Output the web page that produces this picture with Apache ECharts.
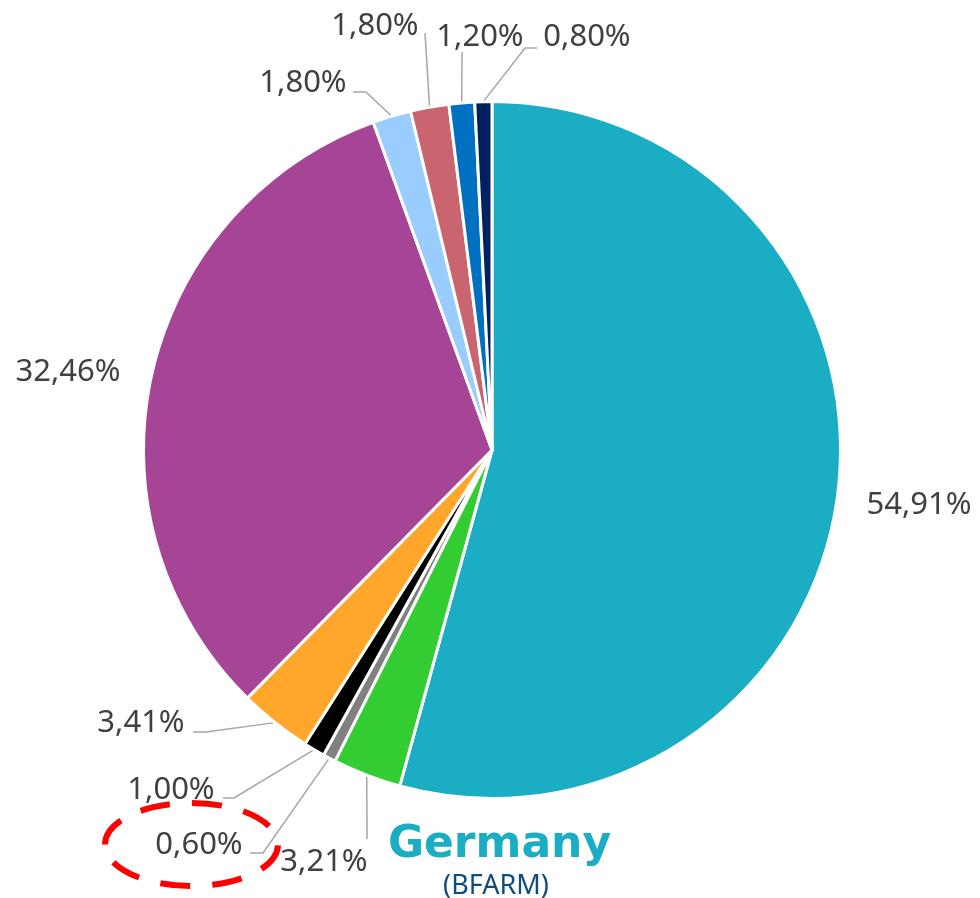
<!DOCTYPE html>
<html>
<head>
<meta charset="utf-8">
<script src="https://cdn.jsdelivr.net/npm/echarts@6/dist/echarts.min.js"></script>
<style>
html,body{margin:0;padding:0;background:#ffffff;}
#chart{width:980px;height:898px;}
</style>
</head>
<body>
<div id="chart"></div>
<script>
// ---- DATA ----
const categories = ['Segment 1','Segment 2','Segment 3','Segment 4','Segment 5','Segment 6','Segment 7','Segment 8','Segment 9','Segment 10'];
const values = [54.91, 3.21, 0.60, 1.00, 3.41, 32.46, 1.80, 1.80, 1.20, 0.80];
const titleText = 'Germany';
const subtitleText = '(BFARM)';

// ---- STYLE ----
const colors = ['#1BADC3','#33CC33','#808080','#000000','#FFA62B','#A64495','#99CCFF','#C9656F','#0070C0','#002060'];

// label placement (glyph centre) and leader-line geometry near the label
const labelLayoutSpec = [
  {x: 919, y: 505, line: null},
  {x: 324, y: 862, line: [[367, 839], [367, 839]]},
  {x: 199, y: 845, line: [[263, 853], [250, 853]]},
  {x: 171, y: 790, line: [[234, 798], [223, 798]]},
  {x: 141, y: 723, line: [[206, 732], [193, 732]]},
  {x: 68,  y: 372, line: null},
  {x: 303, y: 83,  line: [[366, 92], [353, 92]]},
  {x: 375, y: 26,  line: [[425, 33], [425, 33]]},
  {x: 480, y: 37,  line: [[462, 52], [462, 52]]},
  {x: 587, y: 37,  line: [[525, 48], [537, 48]]}
];

const chart = echarts.init(document.getElementById('chart'), null, {renderer: 'canvas'});

const pieData = values.map(function (v, i) {
  const item = {name: categories[i], value: v, itemStyle: {color: colors[i]}};
  if (!labelLayoutSpec[i].line) item.labelLine = {show: false};
  return item;
});

chart.setOption({
  animation: false,
  backgroundColor: '#ffffff',
  series: [{
    type: 'pie',
    center: [492, 450],
    radius: 348.5,
    startAngle: 90,
    clockwise: true,
    avoidLabelOverlap: false,
    data: pieData,
    itemStyle: {borderColor: '#ffffff', borderWidth: 3},
    emphasis: {disabled: true},
    label: {
      show: true,
      position: 'outside',
      fontFamily: 'Noto Sans',
      fontSize: 31,
      color: '#404040',
      formatter: function (p) { return p.value.toFixed(2).replace('.', ',') + '%'; }
    },
    labelLine: {
      show: true,
      length: 10,
      length2: 10,
      lineStyle: {color: '#A6A6A6', width: 1.5}
    },
    labelLayout: function (p) {
      const L = labelLayoutSpec[p.dataIndex];
      const out = {x: L.x, y: L.y, align: 'center', verticalAlign: 'middle', hideOverlap: false};
      if (L.line && p.labelLinePoints && p.labelLinePoints[0]) {
        const a = p.labelLinePoints[0];
        out.labelLinePoints = [[a[0], a[1]], L.line[0].slice(), L.line[1].slice()];
      }
      return out;
    }
  }],
  graphic: [
    {
      type: 'ellipse',
      shape: {cx: 191.5, cy: 844.5, rx: 86.5, ry: 41.5},
      style: {fill: 'none', stroke: '#FF0000', lineWidth: 6, lineDash: [30, 22]},
      z: 10
    },
    {
      type: 'text',
      x: 499.5, y: 846,
      style: {
        text: titleText,
        fontFamily: 'DejaVu Sans',
        fontWeight: 'bold',
        fontSize: 44,
        fill: '#1BADC3',
        align: 'center',
        verticalAlign: 'middle'
      }
    },
    {
      type: 'text',
      x: 496, y: 886,
      style: {
        text: subtitleText,
        fontFamily: 'Noto Sans',
        fontSize: 27,
        fill: '#0F4C7E',
        align: 'center',
        verticalAlign: 'middle'
      }
    }
  ]
});
</script>
</body>
</html>
